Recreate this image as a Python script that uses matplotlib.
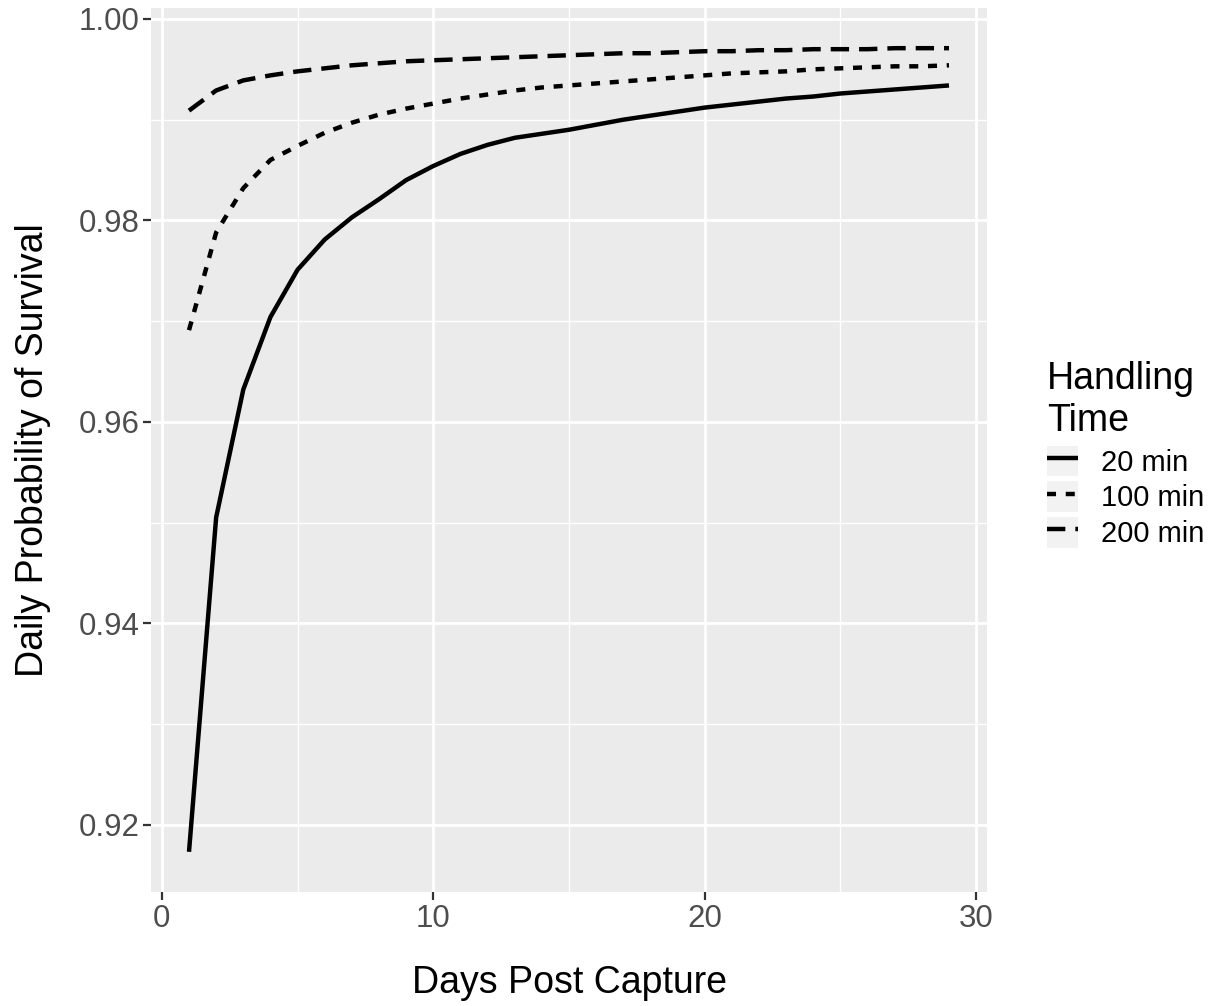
import matplotlib
matplotlib.use("Agg")
import matplotlib.pyplot as plt
from matplotlib.patches import Rectangle
from matplotlib.legend_handler import HandlerTuple
from matplotlib.ticker import FixedLocator

plt.rcParams['font.family'] = ['Liberation Sans', 'DejaVu Sans']
plt.rcParams['lines.scale_dashes'] = False

days = list(range(1, 30))
surv_20 = [0.9173, 0.9505, 0.9632, 0.9704, 0.9751, 0.9781, 0.9803, 0.9821, 0.9840,
           0.9854, 0.9866, 0.9875, 0.9882, 0.9886, 0.9890, 0.9895, 0.9900, 0.9904,
           0.9908, 0.9912, 0.9915, 0.9918, 0.9921, 0.9923, 0.9926, 0.9928, 0.9930,
           0.9932, 0.9934]
surv_100 = [0.9691, 0.9788, 0.9832, 0.9860, 0.9874, 0.9887, 0.9897, 0.9905, 0.9911,
            0.9916, 0.9921, 0.9925, 0.9929, 0.9932, 0.9934, 0.9936, 0.9938, 0.9940,
            0.9942, 0.9944, 0.9946, 0.9947, 0.9948, 0.9950, 0.9951, 0.9952, 0.9953,
            0.9953, 0.9954]
surv_200 = [0.9909, 0.9929, 0.9939, 0.9944, 0.9948, 0.9951, 0.9954, 0.9956, 0.9958,
            0.9959, 0.9960, 0.9961, 0.9962, 0.9963, 0.9964, 0.9965, 0.9966, 0.9966,
            0.9967, 0.9968, 0.9968, 0.9969, 0.9969, 0.9970, 0.9970, 0.9970, 0.9971,
            0.9971, 0.9971]
series_labels = ["20 min", "100 min", "200 min"]
x_ticks = [0, 10, 20, 30]
y_ticks = [0.92, 0.94, 0.96, 0.98, 1.00]

W, H = 1215, 1006
fig = plt.figure(figsize=(W / 100, H / 100), dpi=100)
L, R, T, B = 151, 987, 8, 892
ax = fig.add_axes([L / W, 1 - B / H, (R - L) / W, (B - T) / H])
ax.set_facecolor('#EBEBEB')
for s in ax.spines.values():
    s.set_visible(False)

lw = 3.2
styles = ['-', (0, (6.5, 7.0)), (0, (13.2, 7.2))]
lines = []
for vals, ls in zip([surv_20, surv_100, surv_200], styles):
    ln, = ax.plot(days, vals, color='black', lw=lw, ls=ls, dash_capstyle='butt',
                  solid_capstyle='butt', zorder=3)
    lines.append(ln)

xmin, xmax = min(days), max(days)
allv = surv_20 + surv_100 + surv_200
ymin, ymax = min(allv), max(allv)
ax.set_xlim(xmin - 0.05 * (xmax - xmin), xmax + 0.05 * (xmax - xmin))
ax.set_ylim(ymin - 0.05 * (ymax - ymin), ymax + 0.05 * (ymax - ymin))

ax.xaxis.set_major_locator(FixedLocator(x_ticks))
ax.yaxis.set_major_locator(FixedLocator(y_ticks))
ax.xaxis.set_minor_locator(FixedLocator([5, 15, 25]))
ax.yaxis.set_minor_locator(FixedLocator([0.93, 0.95, 0.97, 0.99]))
ax.set_xticklabels([str(v) for v in x_ticks])
ax.set_yticklabels([f"{v:.2f}" for v in y_ticks])
ax.grid(which='major', color='white', lw=2.0)
ax.grid(which='minor', color='white', lw=1.0)
ax.set_axisbelow(True)
ax.tick_params(which='major', length=5.8, width=1.6, color='#333333',
               labelcolor='#4D4D4D', labelsize=22.5, pad=2.5)
ax.tick_params(which='minor', length=0)

fig.text(569 / W, 1 - 983 / H, "Days Post Capture", ha='center', va='center',
         fontsize=27, color='black')
fig.text(33 / W, 1 - 450 / H, "Daily Probability of Survival", ha='center',
         va='center', rotation=90, fontsize=27, color='black')

handles = []
for ln in lines:
    bg = Rectangle((0, 0), 1, 1, facecolor='#F2F2F2', edgecolor='none')
    handles.append((bg, ln))
leg = fig.legend(handles, series_labels, title="Handling\nTime",
                 loc='upper left', bbox_to_anchor=(1047 / W, 1 - 361 / H),
                 frameon=False, fontsize=21, title_fontsize=27,
                 handlelength=1.05, handleheight=1.25, handletextpad=0.8,
                 labelspacing=0.15, borderaxespad=0, borderpad=0,
                 alignment='left',
                 handler_map={tuple: HandlerTuple(ndivide=1, pad=0)})
leg._legend_box.sep = 5

fig.savefig('out.png', dpi=100, facecolor='white')
